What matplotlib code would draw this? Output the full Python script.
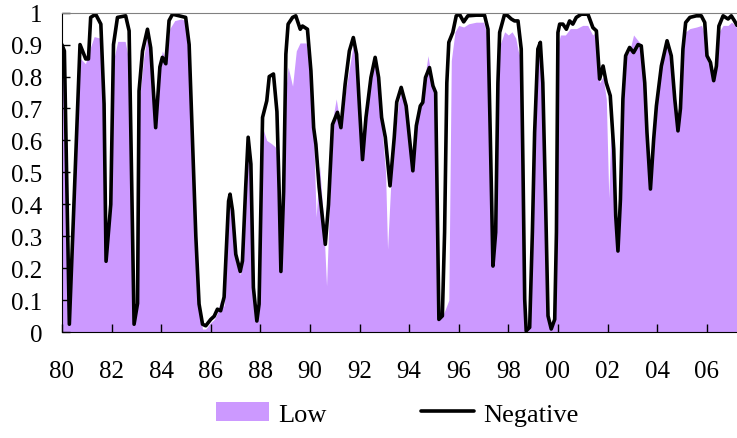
import matplotlib
matplotlib.use("Agg")
import matplotlib.pyplot as plt
import numpy as np

plt.rcParams['font.family'] = ['Liberation Serif', 'DejaVu Serif']

# "Negative" line: (year, share)
neg_year = [1980.00, 1980.10, 1980.30, 1980.73, 1980.96, 1981.07, 1981.16, 1981.36, 1981.57, 1981.70,
            1981.78, 1981.97, 1982.08, 1982.24, 1982.57, 1982.71, 1982.91, 1983.05, 1983.11, 1983.25,
            1983.45, 1983.58, 1983.78, 1983.95, 1984.05, 1984.19, 1984.32, 1984.46, 1984.73, 1984.99,
            1985.13, 1985.26, 1985.40, 1985.53, 1985.67, 1985.80, 1986.00, 1986.14, 1986.27, 1986.40,
            1986.54, 1986.72, 1986.78, 1986.88, 1987.01, 1987.19, 1987.28, 1987.41, 1987.51, 1987.62,
            1987.72, 1987.86, 1987.95, 1988.09, 1988.26, 1988.36, 1988.53, 1988.67, 1988.76, 1988.83,
            1988.94, 1989.03, 1989.12, 1989.30, 1989.43, 1989.61, 1989.70, 1989.90, 1990.04, 1990.15,
            1990.24, 1990.37, 1990.62, 1990.75, 1990.91, 1991.11, 1991.25, 1991.42, 1991.59, 1991.75,
            1991.88, 1991.99, 1992.12, 1992.26, 1992.46, 1992.63, 1992.77, 1992.89, 1993.04, 1993.23,
            1993.40, 1993.50, 1993.68, 1993.88, 1994.02, 1994.15, 1994.29, 1994.45, 1994.55, 1994.66,
            1994.82, 1994.96, 1995.07, 1995.13, 1995.20, 1995.34, 1995.43, 1995.52, 1995.60, 1995.76,
            1995.90, 1996.03, 1996.20, 1996.37, 1996.71, 1997.04, 1997.18, 1997.27, 1997.38, 1997.49,
            1997.58, 1997.65, 1997.85, 1997.98, 1998.12, 1998.25, 1998.39, 1998.52, 1998.59, 1998.66,
            1998.72, 1998.86, 1998.97, 1999.06, 1999.19, 1999.29, 1999.39, 1999.50, 1999.60, 1999.73,
            1999.87, 1999.94, 2000.00, 2000.07, 2000.20, 2000.34, 2000.47, 2000.60, 2000.74, 2000.94,
            2001.21, 2001.41, 2001.55, 2001.68, 2001.82, 2001.95, 2002.11, 2002.25, 2002.33, 2002.42,
            2002.52, 2002.62, 2002.73, 2002.89, 2003.05, 2003.23, 2003.36, 2003.50, 2003.59, 2003.73,
            2003.86, 2003.97, 2004.17, 2004.40, 2004.57, 2004.71, 2004.84, 2004.94, 2005.04, 2005.15,
            2005.32, 2005.58, 2005.78, 2005.92, 2006.01, 2006.15, 2006.28, 2006.39, 2006.49, 2006.66,
            2006.86, 2006.99, 2007.12, 2007.22]
neg_val = [0.90, 0.88, 0.025, 0.90, 0.855, 0.855, 0.985, 0.995, 0.964, 0.714,
           0.222, 0.40, 0.90, 0.985, 0.99, 0.943, 0.025, 0.09, 0.755, 0.88,
           0.948, 0.89, 0.64, 0.83, 0.86, 0.84, 0.975, 0.995, 0.99, 0.985,
           0.90, 0.61, 0.30, 0.088, 0.025, 0.02, 0.04, 0.05, 0.072, 0.067,
           0.11, 0.41, 0.432, 0.38, 0.244, 0.19, 0.223, 0.454, 0.61, 0.526,
           0.14, 0.035, 0.088, 0.672, 0.724, 0.80, 0.808, 0.69, 0.44, 0.19,
           0.44, 0.87, 0.964, 0.985, 0.99, 0.948, 0.958, 0.948, 0.818, 0.64,
           0.588, 0.454, 0.275, 0.40, 0.65, 0.688, 0.64, 0.776, 0.88, 0.922,
           0.87, 0.714, 0.54, 0.672, 0.797, 0.86, 0.797, 0.672, 0.61, 0.458,
           0.61, 0.72, 0.766, 0.708, 0.604, 0.505, 0.646, 0.708, 0.719, 0.797,
           0.828, 0.771, 0.75, 0.416, 0.04, 0.051, 0.313, 0.78, 0.907, 0.938,
           0.99, 0.995, 0.971, 0.99, 0.992, 0.992, 0.948, 0.625, 0.207, 0.313,
           0.78, 0.938, 0.995, 0.99, 0.98, 0.974, 0.974, 0.886, 0.52, 0.103,
           0.004, 0.015, 0.313, 0.625, 0.886, 0.907, 0.78, 0.416, 0.051, 0.01,
           0.04, 0.313, 0.938, 0.964, 0.964, 0.948, 0.974, 0.964, 0.985, 0.995,
           0.995, 0.953, 0.943, 0.792, 0.833, 0.78, 0.74, 0.573, 0.364, 0.254,
           0.416, 0.73, 0.865, 0.891, 0.875, 0.90, 0.896, 0.78, 0.625, 0.448,
           0.604, 0.708, 0.833, 0.912, 0.865, 0.73, 0.63, 0.70, 0.886, 0.969,
           0.985, 0.99, 0.99, 0.969, 0.865, 0.844, 0.787, 0.833, 0.958, 0.99,
           0.98, 0.99, 0.974, 0.96]

# "Low" area: (year, share)
low_year = [1980.00, 1980.10, 1980.28, 1980.70, 1980.95, 1981.10, 1981.30, 1981.55, 1981.70, 1981.79,
            1981.97, 1982.08, 1982.25, 1982.55, 1982.70, 1982.90, 1983.05, 1983.12, 1983.30, 1983.45,
            1983.58, 1983.78, 1983.95, 1984.05, 1984.19, 1984.35, 1984.55, 1984.80, 1985.00, 1985.13,
            1985.26, 1985.40, 1985.53, 1985.67, 1985.80, 1986.00, 1986.14, 1986.27, 1986.40, 1986.54,
            1986.72, 1986.80, 1986.90, 1987.01, 1987.19, 1987.28, 1987.41, 1987.51, 1987.62, 1987.72,
            1987.86, 1987.95, 1988.09, 1988.26, 1988.45, 1988.60, 1988.70, 1988.76, 1988.83, 1988.94,
            1989.03, 1989.12, 1989.30, 1989.45, 1989.60, 1989.85, 1990.00, 1990.15, 1990.25, 1990.39,
            1990.55, 1990.67, 1990.80, 1990.95, 1991.06, 1991.25, 1991.45, 1991.75, 1991.88, 1992.00,
            1992.12, 1992.26, 1992.46, 1992.63, 1992.77, 1992.90, 1993.05, 1993.13, 1993.25, 1993.40,
            1993.58, 1993.68, 1993.88, 1994.02, 1994.15, 1994.29, 1994.45, 1994.60, 1994.76, 1994.90,
            1995.05, 1995.13, 1995.20, 1995.34, 1995.45, 1995.60, 1995.70, 1995.85, 1996.00, 1996.20,
            1996.40, 1996.70, 1997.00, 1997.15, 1997.27, 1997.38, 1997.49, 1997.58, 1997.67, 1997.85,
            1998.00, 1998.15, 1998.30, 1998.40, 1998.52, 1998.59, 1998.65, 1998.72, 1998.86, 1998.97,
            1999.06, 1999.20, 1999.29, 1999.40, 1999.51, 1999.60, 1999.73, 1999.87, 1999.93, 2000.00,
            2000.10, 2000.30, 2000.50, 2000.75, 2001.00, 2001.20, 2001.40, 2001.55, 2001.68, 2001.82,
            2001.95, 2002.05, 2002.16, 2002.24, 2002.32, 2002.41, 2002.51, 2002.62, 2002.73, 2002.89,
            2003.05, 2003.15, 2003.36, 2003.50, 2003.59, 2003.73, 2003.86, 2003.97, 2004.17, 2004.40,
            2004.58, 2004.71, 2004.84, 2004.94, 2005.05, 2005.15, 2005.32, 2005.59, 2005.79, 2005.92,
            2006.02, 2006.15, 2006.28, 2006.39, 2006.50, 2006.66, 2006.86, 2007.00, 2007.14, 2007.22]
low_val = [0.86, 0.84, 0.03, 0.86, 0.84, 0.88, 0.925, 0.92, 0.60, 0.22,
           0.40, 0.85, 0.91, 0.91, 0.85, 0.03, 0.09, 0.72, 0.86, 0.93,
           0.87, 0.64, 0.84, 0.88, 0.85, 0.95, 0.975, 0.98, 0.975, 0.88,
           0.58, 0.28, 0.07, 0.01, 0.01, 0.03, 0.04, 0.06, 0.10, 0.08,
           0.38, 0.40, 0.35, 0.22, 0.18, 0.21, 0.42, 0.58, 0.50, 0.13,
           0.03, 0.07, 0.64, 0.60, 0.59, 0.58, 0.55, 0.40, 0.19, 0.40,
           0.76, 0.83, 0.77, 0.88, 0.905, 0.905, 0.82, 0.62, 0.36, 0.52,
           0.35, 0.145, 0.42, 0.68, 0.73, 0.64, 0.76, 0.90, 0.86, 0.70,
           0.53, 0.66, 0.80, 0.865, 0.79, 0.64, 0.50, 0.26, 0.45, 0.60,
           0.72, 0.75, 0.70, 0.60, 0.50, 0.64, 0.71, 0.78, 0.865, 0.80,
           0.72, 0.40, 0.04, 0.05, 0.07, 0.10, 0.85, 0.94, 0.96, 0.955,
           0.965, 0.97, 0.97, 0.93, 0.60, 0.20, 0.30, 0.75, 0.90, 0.94,
           0.93, 0.94, 0.92, 0.88, 0.85, 0.50, 0.10, 0.00, 0.01, 0.30,
           0.60, 0.86, 0.89, 0.75, 0.40, 0.05, 0.01, 0.03, 0.30, 0.90,
           0.93, 0.93, 0.95, 0.95, 0.96, 0.96, 0.93, 0.94, 0.78, 0.80,
           0.73, 0.42, 0.70, 0.56, 0.36, 0.25, 0.41, 0.73, 0.86, 0.88,
           0.93, 0.92, 0.90, 0.78, 0.62, 0.45, 0.60, 0.70, 0.83, 0.90,
           0.86, 0.72, 0.63, 0.70, 0.88, 0.94, 0.95, 0.955, 0.96, 0.93,
           0.85, 0.83, 0.79, 0.85, 0.94, 0.96, 0.96, 0.97, 0.96, 0.95]

tick_years = list(range(1980, 2007, 2))
tick_labels = ['80', '82', '84', '86', '88', '90', '92', '94', '96', '98', '00', '02', '04', '06']
y_ticks = [0, 0.1, 0.2, 0.3, 0.4, 0.5, 0.6, 0.7, 0.8, 0.9, 1]
y_labels = ['0', '0.1', '0.2', '0.3', '0.4', '0.5', '0.6', '0.7', '0.8', '0.9', '1']

fig = plt.figure(figsize=(7.37, 4.39), dpi=100)
ax = fig.add_axes([0.084, 0.241, 0.916, 0.728])

ax.fill_between(low_year, low_val, 0, color='#CC99FF', linewidth=0, label='Low')
ax.plot(neg_year, neg_val, color='black', linewidth=2.6, solid_joinstyle='round',
        solid_capstyle='round', label='Negative')

ax.set_xlim(1980, 2007.22)
ax.set_ylim(0, 1)
ax.set_xticks(tick_years)
ax.set_xticklabels(tick_labels)
ax.set_yticks(y_ticks)
ax.set_yticklabels(y_labels)
ax.tick_params(axis='x', direction='in', length=6, width=1, pad=20, labelsize=18)
ax.tick_params(axis='y', direction='in', length=6, width=1, pad=14, labelsize=18)

ax.spines['left'].set_color('black')
ax.spines['bottom'].set_color('black')
ax.spines['top'].set_color('#808080')
ax.spines['right'].set_visible(False)

fig.legend(loc='center', bbox_to_anchor=(0.539, 0.055), ncol=2, frameon=False, fontsize=19,
           handlelength=2.0, handleheight=0.7, handletextpad=0.35, columnspacing=3.6)

fig.savefig('out.png', dpi=100)
